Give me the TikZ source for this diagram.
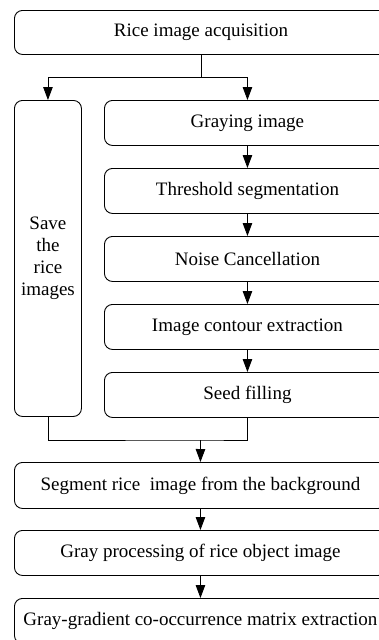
\documentclass[tikz,border=0pt]{standalone}
\usepackage{fontspec}
\setmainfont{Liberation Serif}
\usetikzlibrary{arrows.meta}
\begin{document}
\begin{tikzpicture}[x=1pt,y=-1pt,
  box/.style={draw,line width=0.9pt,rounded corners=8pt,inner sep=0pt,anchor=north west,
    font=\fontsize{19}{22}\selectfont,align=center},
  arr/.style={-{Triangle[width=9.5pt,length=13pt]},line width=0.9pt},
  ln/.style={line width=0.9pt}]
\path[clip] (0,0) rectangle (379,640);
\node[box,minimum width=373pt,minimum height=44pt] (top) at (14,10) {Rice image acquisition};
\node[box,minimum width=67pt,minimum height=316pt] (save) at (14,100) {Save\\the\\rice\\images};
\node[box,minimum width=286pt,minimum height=45pt] (gray) at (104,100) {Graying image};
\node[box,minimum width=286pt,minimum height=45pt] (thr) at (104,168) {Threshold segmentation};
\node[box,minimum width=286pt,minimum height=45pt] (noise) at (104,236) {Noise Cancellation};
\node[box,minimum width=286pt,minimum height=45pt] (cont) at (104,304) {Image contour extraction};
\node[box,minimum width=286pt,minimum height=45pt] (seed) at (104,372) {Seed filling};
\node[box,minimum width=372pt,minimum height=46pt] (seg) at (14,462) {Segment rice\ \ image from the background};
\node[box,minimum width=372pt,minimum height=45pt] (gp) at (14,530) {Gray processing of rice object image};
\node[box,minimum width=372pt,minimum height=45pt] (ggc) at (14,598) {Gray-gradient co-occurrence matrix extraction};
\coordinate (split) at (top.south |- 0,77);
\coordinate (join) at (200.5,440);
\draw[ln] (top.south) -- (split);
\draw[arr] (split) -| (save.north);
\draw[arr] (split) -| (gray.north);
\draw[arr] (gray) -- (thr);
\draw[arr] (thr) -- (noise);
\draw[arr] (noise) -- (cont);
\draw[arr] (cont) -- (seed);
\draw[ln] (save.south) |- (join) -| (seed.south);
\draw[arr] (join) -- (seg.north);
\draw[arr] (seg) -- (gp);
\draw[arr] (gp) -- (ggc);
\end{tikzpicture}
\end{document}
